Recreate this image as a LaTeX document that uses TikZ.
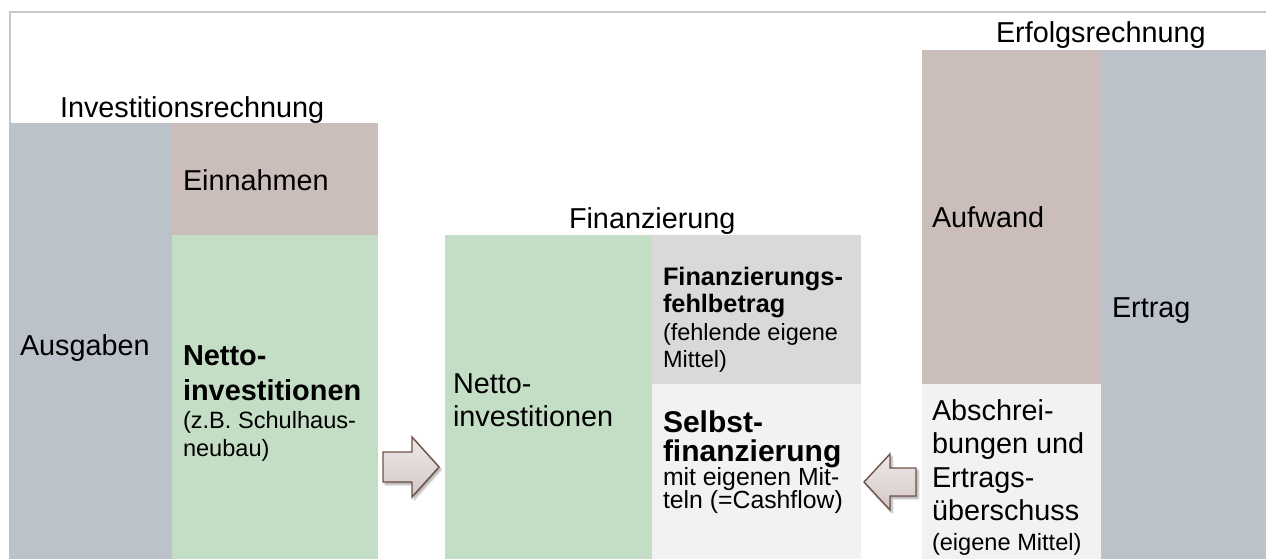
\documentclass[tikz,border=0pt]{standalone}
\usepackage{fontspec}
\setmainfont{Liberation Sans}
\usetikzlibrary{shadows.blur}

\definecolor{slateblue}{HTML}{BBC2CA}
\definecolor{rosegray}{HTML}{CBBEBA}
\definecolor{mintgreen}{HTML}{C4DDC5}
\definecolor{midgray}{HTML}{D9D9D9}
\definecolor{palegray}{HTML}{F2F2F2}
\definecolor{framegray}{HTML}{C3C8CC}
\definecolor{arrowbrown}{HTML}{6E5149}
\definecolor{arrowtop}{HTML}{EEE8E7}
\definecolor{arrowbot}{HTML}{D3C9C7}

\begin{document}
\begin{tikzpicture}[x=1pt,y=-1pt,
  panel/.style={inner sep=0pt, outer sep=0pt, draw=none, anchor=north west},
  lbl/.style={inner sep=0pt, outer sep=0pt, anchor=base west, text=black,
              font=\fontsize{28.8}{34}\selectfont},
  boldlbl/.style={lbl, font=\fontsize{28.9}{34}\selectfont\bfseries},
  smalllbl/.style={lbl, font=\fontsize{23.6}{28}\selectfont},
  frameline/.style={draw=framegray, line width=1.5pt},
  blockarrow/.style={draw=arrowbrown, line width=1.4pt, line join=miter,
              top color=arrowtop, bottom color=arrowbot,
              blur shadow={shadow xshift=2pt, shadow yshift=-2.5pt,
                           shadow blur steps=6, shadow opacity=35}}]

\useasboundingbox (0,0) rectangle (1266,559);

% outer frame (top and left edges)
\draw[frameline] (1266,12) -- (10,12) -- (10,559);

% Investitionsrechnung
\node[panel, fill=slateblue, minimum width=163pt, minimum height=436pt] (ausgaben) at (9,123) {};
\node[panel, fill=rosegray,  minimum width=206pt, minimum height=112pt] (einnahmen) at (172,123) {};
\node[panel, fill=mintgreen, minimum width=206pt, minimum height=324pt] (nettoA) at (172,235) {};

% Finanzierung
\node[panel, fill=mintgreen, minimum width=207pt, minimum height=324pt] (nettoB) at (445,235) {};
\node[panel, fill=midgray,   minimum width=209pt, minimum height=149pt] (fehl) at (652,235) {};
\node[panel, fill=palegray,  minimum width=209pt, minimum height=175pt] (selbst) at (652,384) {};

% Erfolgsrechnung
\node[panel, fill=rosegray,  minimum width=179pt, minimum height=334pt] (aufwand) at (922,50) {};
\node[panel, fill=palegray,  minimum width=179pt, minimum height=175pt] (abschr) at (922,384) {};
\node[panel, fill=slateblue, minimum width=165pt, minimum height=509pt] (ertrag) at (1101,50) {};

% titles
\node[lbl] (tInv) at (60,118) {Investitionsrechnung};
\node[lbl] (tFin) at (569,228) {Finanzierung};
\node[lbl] (tErf) at (996,43) {Erfolgsrechnung};

% left block texts
\node[lbl] (lEinn) at (183,190) {Einnahmen};
\node[lbl] (lAusg) at (20,355) {Ausgaben};
\node[boldlbl] (lNa1) at (183,365) {Netto-};
\node[boldlbl] (lNa2) at (183,400) {investitionen};
\node[smalllbl] (lNa3) at (183,428) {(z.B. Schulhaus-};
\node[smalllbl] (lNa4) at (183,456) {neubau)};

% middle block texts
\node[lbl] (lNb1) at (453,393) {Netto-};
\node[lbl] (lNb2) at (453,426) {investitionen};
\node[lbl, font=\fontsize{25.3}{30}\selectfont\bfseries] (lF1) at (663,285) {Finanzierungs-};
\node[lbl, font=\fontsize{25.3}{30}\selectfont\bfseries] (lF2) at (663,312) {fehlbetrag};
\node[lbl, font=\fontsize{23.5}{28}\selectfont] (lF3) at (663,340) {(fehlende eigene};
\node[lbl, font=\fontsize{23.5}{28}\selectfont] (lF4) at (663,367) {Mittel)};
\node[lbl, font=\fontsize{30}{34}\selectfont\bfseries] (lS1) at (663,432) {Selbst-};
\node[lbl, font=\fontsize{30}{34}\selectfont\bfseries] (lS2) at (663,461) {finanzierung};
\node[lbl, font=\fontsize{24.8}{28}\selectfont] (lS3) at (663,485) {mit eigenen Mit-};
\node[lbl, font=\fontsize{24.8}{28}\selectfont] (lS4) at (663,508) {teln (=Cashflow)};

% right block texts
\node[lbl] (lAufw) at (932,227) {Aufwand};
\node[lbl] (lErtr) at (1112,317) {Ertrag};
\node[lbl] (lA1) at (932,420) {Abschrei-};
\node[lbl] (lA2) at (932,453) {bungen und};
\node[lbl] (lA3) at (932,487) {Ertrags-};
\node[lbl] (lA4) at (932,520) {überschuss};
\node[smalllbl] (lA5) at (932,550) {(eigene Mittel)};

% block arrows
\draw[blockarrow] (383,452) -- (412,452) -- (412,437) -- (439,467)
  -- (412,497) -- (412,482) -- (383,482) -- cycle;
\draw[blockarrow] (916,468) -- (890,468) -- (890,454) -- (864,482)
  -- (890,510) -- (890,496) -- (916,496) -- cycle;
\end{tikzpicture}
\end{document}
